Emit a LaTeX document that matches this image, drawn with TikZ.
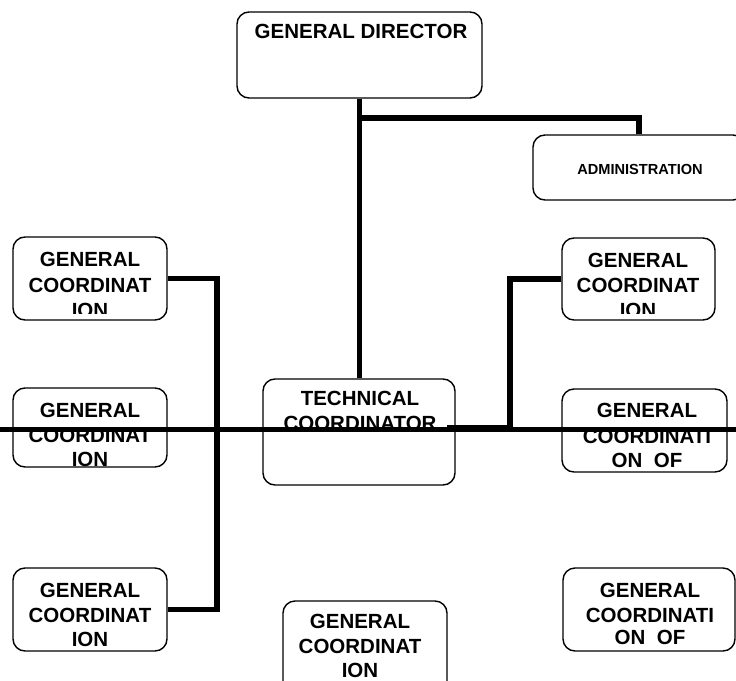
\documentclass[tikz,border=0pt]{standalone}
\usepackage{fontspec}
\setmainfont{Liberation Sans}
\begin{document}
\begin{tikzpicture}[x=1pt,y=-1pt]
\tikzset{
  box/.style={draw, line width=1.4pt, rounded corners=12pt, fill=white, inner sep=0pt},
  lbl/.style={font=\bfseries\fontsize{20.5}{25}\selectfont, anchor=base, inner sep=0pt},
  slbl/.style={font=\bfseries\fontsize{14.6}{17}\selectfont, anchor=base, inner sep=0pt},
  conn/.style={line width=5.5pt, line join=miter, line cap=butt},
  bar/.style={line width=5pt, line cap=butt},
}
\useasboundingbox (0,0) rectangle (736,680);
\clip (0,0) rectangle (736,680);
\fill[white] (0,0) rectangle (736,680);

% boxes
\node[box, minimum width=245pt, minimum height=86pt] (dir) at (359.5,55) {};
\node[box, minimum width=212pt, minimum height=65pt] (adm) at (639,167.5) {};
\node[box, minimum width=154pt, minimum height=83pt] (lgc1) at (90,278.5) {};
\node[box, minimum width=154pt, minimum height=79pt] (lgc2) at (90,427.5) {};
\node[box, minimum width=154pt, minimum height=83pt] (lgc3) at (90,609.5) {};
\node[box, minimum width=192pt, minimum height=106pt] (tech) at (359,432) {};
\node[box, minimum width=153pt, minimum height=82pt] (rgc1) at (638.5,279) {};
\node[box, minimum width=165pt, minimum height=83pt] (rgc2) at (644.5,430.5) {};
\node[box, minimum width=172pt, minimum height=83pt] (rgc3) at (649,609.5) {};
\node[box, minimum width=164pt, minimum height=99pt] (bgc) at (365,650.5) {};

% texts
\node[lbl] (dirt) at (361,38) {GENERAL DIRECTOR};
\node[slbl] (admt) at (640,174) {ADMINISTRATION};

\begin{scope}
\clip (13,237) rectangle (167,313);
\node[lbl] (lgc1a) at (90,266) {GENERAL};
\node[lbl] (lgc1b) at (90,292) {COORDINAT};
\node[lbl] (lgc1c) at (90,317) {ION};
\end{scope}

\node[lbl] (lgc2a) at (90,417) {GENERAL};
\node[lbl] (lgc2b) at (90,442) {COORDINAT};
\node[lbl] (lgc2c) at (90,466) {ION};

\node[lbl] (lgc3a) at (90,597) {GENERAL};
\node[lbl] (lgc3b) at (90,622) {COORDINAT};
\node[lbl] (lgc3c) at (90,646) {ION};

\node[lbl] (techa) at (360,405) {TECHNICAL};
\node[lbl] (techb) at (360,430) {COORDINATOR};

\begin{scope}
\clip (562,238) rectangle (715,313);
\node[lbl] (rgc1a) at (638,267) {GENERAL};
\node[lbl] (rgc1b) at (638,292) {COORDINAT};
\node[lbl] (rgc1c) at (638,317) {ION};
\end{scope}

\node[lbl] (rgc2a) at (647,417) {GENERAL};
\node[lbl] (rgc2b) at (647,443) {COORDINATI};
\node[lbl] (rgc2c) at (647,467) {ON\ \ OF};

\node[lbl] (rgc3a) at (650,597) {GENERAL};
\node[lbl] (rgc3b) at (650,622) {COORDINATI};
\node[lbl] (rgc3c) at (650,644) {ON\ \ OF};

\node[lbl] (bgca) at (360,628) {GENERAL};
\node[lbl] (bgcb) at (360,653) {COORDINAT};
\node[lbl] (bgcc) at (360,677) {ION};

% connectors
\coordinate (bus) at (217,0);
\coordinate (br) at (0,118);
\coordinate (rj) at (510,428);
\coordinate (rt) at (447,428);
\coordinate (LL) at (-5,429.5);
\coordinate (LR) at (745,429.5);

\draw[conn] (dir.south) -- (dir.south |- tech.north);
\draw[conn] (dir.south |- br) -| (adm.north);
\draw[conn] (lgc1.east) -- (lgc1.east -| bus) -- (lgc3.east -| bus) -- (lgc3.east);
\draw[conn] (rgc1.west) -| (rj) -- (rt);
\draw[bar] (LL) -- (LR);
\end{tikzpicture}
\end{document}
